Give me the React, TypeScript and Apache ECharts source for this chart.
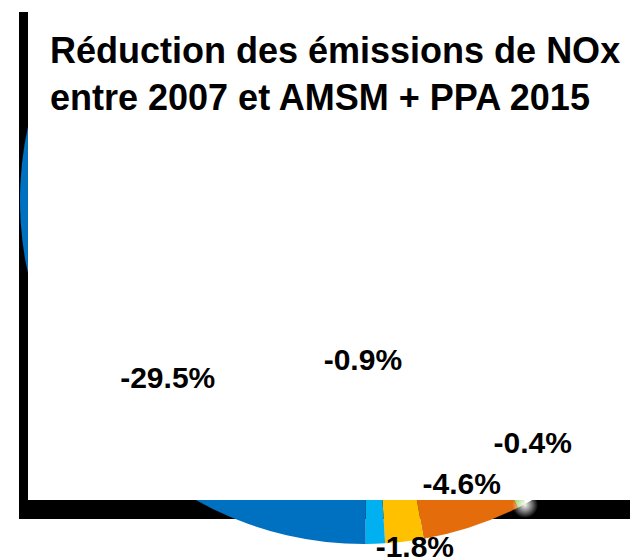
import React, { useEffect, useRef } from 'react';
import * as echarts from 'echarts';

// ---- data ----
const TITLE_LINES = ['Réduction des émissions de NOx', 'entre 2007 et AMSM + PPA 2015'];
const sectors = ['Secteur A', 'Secteur B', 'Secteur C', 'Secteur D', 'Secteur E', 'Émissions restantes'];
const reductions = [0.4, 4.6, 1.8, 0.9, 29.5, 62.8];
const showLabel = [true, true, true, true, true, false];

// ---- styles / layout ----
const sliceColors = ['#92D050', '#E46C0A', '#FFC000', '#00B0F0', '#0070C0', '#FFFFFF'];
const W = 630;
const H = 557;
const CX = 364;
const CY = 200;
const R = 344;
const START_CLOCK = 152; // degrees clockwise from 12 o'clock where the first slice starts
const labelPlacement = [
  { da: -7.6, f: 0.858 },
  { da: -0.7, f: 0.873 },
  { da: -1.6, f: 1.017 },
  { da: 2.3, f: 0.465 },
  { da: -5, f: 0.77 },
  { da: 0, f: 0.5 },
];
const FONT = "'Liberation Sans', Arial, sans-serif";

export default function App() {
  const ref = useRef<HTMLDivElement>(null);

  useEffect(() => {
    document.body.style.margin = '0';
    if (!ref.current) return;
    const chart = echarts.init(ref.current, undefined, { renderer: 'svg' });
    const total = reductions.reduce((a, b) => a + b, 0);
    const data = sectors.map((name, i) => ({
      name,
      value: reductions[i],
      itemStyle: { color: sliceColors[i] },
    }));
    const labelData = sectors.map((name, i) => ({
      name,
      value: reductions[i],
      itemStyle: { color: 'rgba(0,0,0,0)' },
      label: { show: showLabel[i] },
    }));
    const layoutLabel = (p: any) => {
      const i = p.dataIndex;
      let before = 0;
      for (let k = 0; k < i; k++) before += reductions[k];
      const mid = START_CLOCK + ((before + reductions[i] / 2) / total) * 360 + labelPlacement[i].da;
      const rad = (mid * Math.PI) / 180;
      const d = labelPlacement[i].f * R;
      return {
        x: CX + d * Math.sin(rad),
        y: CY - d * Math.cos(rad),
        align: 'center',
        verticalAlign: 'middle',
      };
    };
    const common = {
      type: 'pie',
      center: [CX, CY],
      radius: R,
      startAngle: 90 - START_CLOCK,
      clockwise: true,
      avoidLabelOverlap: false,
      silent: true,
      emphasis: { disabled: true },
      labelLine: { show: false },
    };
    chart.setOption({
      animation: false,
      backgroundColor: '#FFFFFF',
      title: {
        text: TITLE_LINES.join('\n'),
        left: 45,
        top: 22,
        z: 10,
        textStyle: {
          fontSize: 36,
          fontWeight: 'bold',
          fontFamily: FONT,
          color: '#000000',
          lineHeight: 47,
        },
      },
      graphic: [
        { type: 'rect', z: 0, shape: { x: 19, y: 12, width: 9, height: 507 }, style: { fill: '#000000' } },
        { type: 'rect', z: 0, shape: { x: 19, y: 500, width: W - 19, height: 19 }, style: { fill: '#000000' } },
        { type: 'rect', z: 3, shape: { x: 28, y: 0, width: W - 28, height: 500 }, style: { fill: '#FFFFFF' } },
        {
          type: 'circle',
          z: 3,
          shape: { cx: 525, cy: 505, r: 13 },
          style: {
            fill: new echarts.graphic.RadialGradient(0.5, 0.5, 0.5, [
              { offset: 0, color: 'rgba(255,255,255,0.95)' },
              { offset: 0.5, color: 'rgba(255,255,255,0.5)' },
              { offset: 1, color: 'rgba(255,255,255,0)' },
            ]),
          },
        },
      ],
      series: [
        {
          ...common,
          z: 2,
          label: { show: false },
          data,
        },
        {
          ...common,
          z: 5,
          label: {
            show: true,
            position: 'inside',
            fontSize: 30,
            fontWeight: 'bold',
            fontFamily: FONT,
            color: '#000000',
            formatter: (p: any) => `-${Number(p.value).toFixed(1)}%`,
          },
          labelLayout: layoutLabel,
          data: labelData,
        },
      ],
    });
    return () => chart.dispose();
  }, []);

  return <div ref={ref} style={{ width: W, height: H }} />;
}
